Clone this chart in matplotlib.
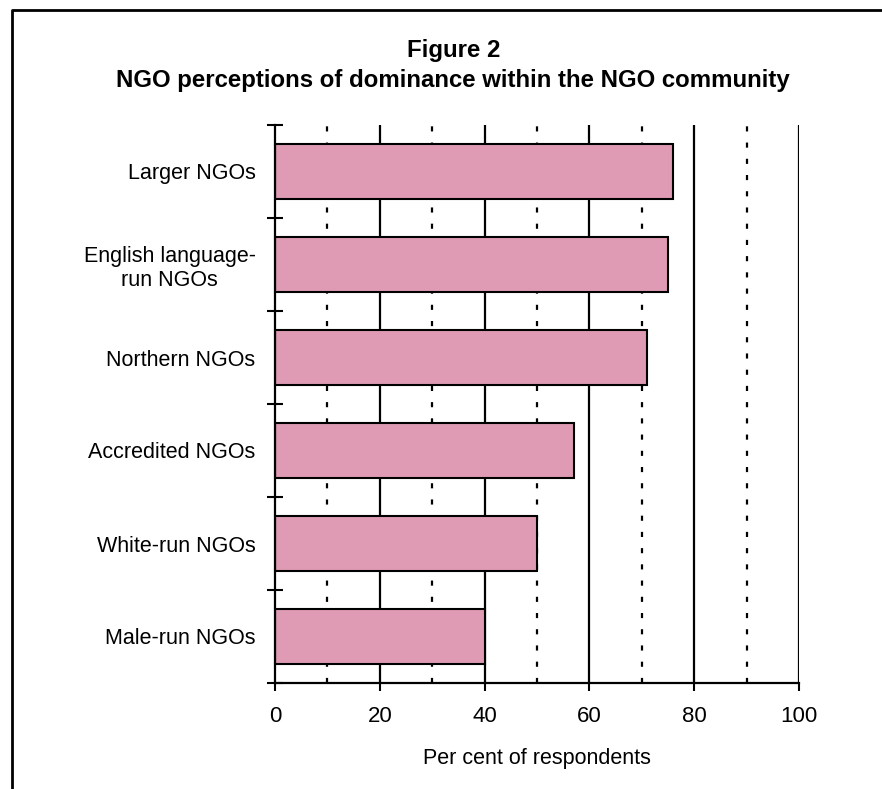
import matplotlib.pyplot as plt
from matplotlib.lines import Line2D
from matplotlib import font_manager

categories = ['Larger NGOs', 'English language-\nrun NGOs', 'Northern NGOs',
              'Accredited NGOs', 'White-run NGOs', 'Male-run NGOs']
values = [76, 75, 71, 57, 50, 40]
solid_grid = [20, 40, 60, 80, 100]
dotted_grid = [10, 30, 50, 70, 90]
xticks = [0, 20, 40, 60, 80, 100]

names = {f.name for f in font_manager.fontManager.ttflist}
narrow = ['Liberation Sans Narrow', 'Liberation Sans'] if 'Liberation Sans Narrow' in names else ['Liberation Sans']

fig = plt.figure(figsize=(8.82, 7.89), dpi=100)
ax = fig.add_axes([275/882, 1-683/789, 524/882, 558/789])

# grid lines behind the bars
for g in solid_grid:
    ax.axvline(g, color='black', lw=1.6, zorder=1)
for g in dotted_grid:
    ax.axvline(g, color='black', lw=1.6, dashes=(2.3, 5.0), zorder=1)

ypos = list(range(len(categories)))
ax.barh(ypos, values, height=0.6, color='#de9bb3', edgecolor='black', lw=1.5, zorder=2)

ax.set_xlim(0, 100)
ax.set_ylim(len(categories) - 0.5, -0.5)

ax.set_yticks(ypos)
ax.set_yticklabels(categories, fontfamily=narrow, fontsize=15.5, ha='right')
for lab in ax.get_yticklabels():
    lab.set_multialignment('center')
ax.tick_params(axis='y', which='major', length=0, pad=14)
ax.set_yticks([i - 0.5 for i in range(len(categories) + 1)], minor=True)
ax.tick_params(axis='y', which='minor', direction='inout', length=11.5, width=1.5)

ax.set_xticks(xticks)
ax.set_xticklabels([str(t) for t in xticks], fontfamily=narrow, fontsize=16)
ax.tick_params(axis='x', direction='out', length=5.5, width=1.5, pad=11)
ax.set_xlabel('Per cent of respondents', fontfamily=narrow, fontsize=15.5, labelpad=15)

for s in ['top', 'right']:
    ax.spines[s].set_visible(False)
for s in ['left', 'bottom']:
    ax.spines[s].set_linewidth(1.6)
    ax.spines[s].set_zorder(3)

fig.text(0.514, 1-50/789, 'Figure 2', ha='center', va='center',
         fontfamily='Liberation Sans', fontweight='bold', fontsize=17.3)
fig.text(0.514, 1-80/789, 'NGO perceptions of dominance within the NGO community',
         ha='center', va='center', fontfamily='Liberation Sans', fontweight='bold', fontsize=17.3)

# frame around the figure (clipped at right and bottom)
fig.add_artist(Line2D([12/882, 12/882, 1.0], [0.0, 1-10/789, 1-10/789],
                      transform=fig.transFigure, color='black', lw=2))

fig.savefig('out.png', dpi=100)
